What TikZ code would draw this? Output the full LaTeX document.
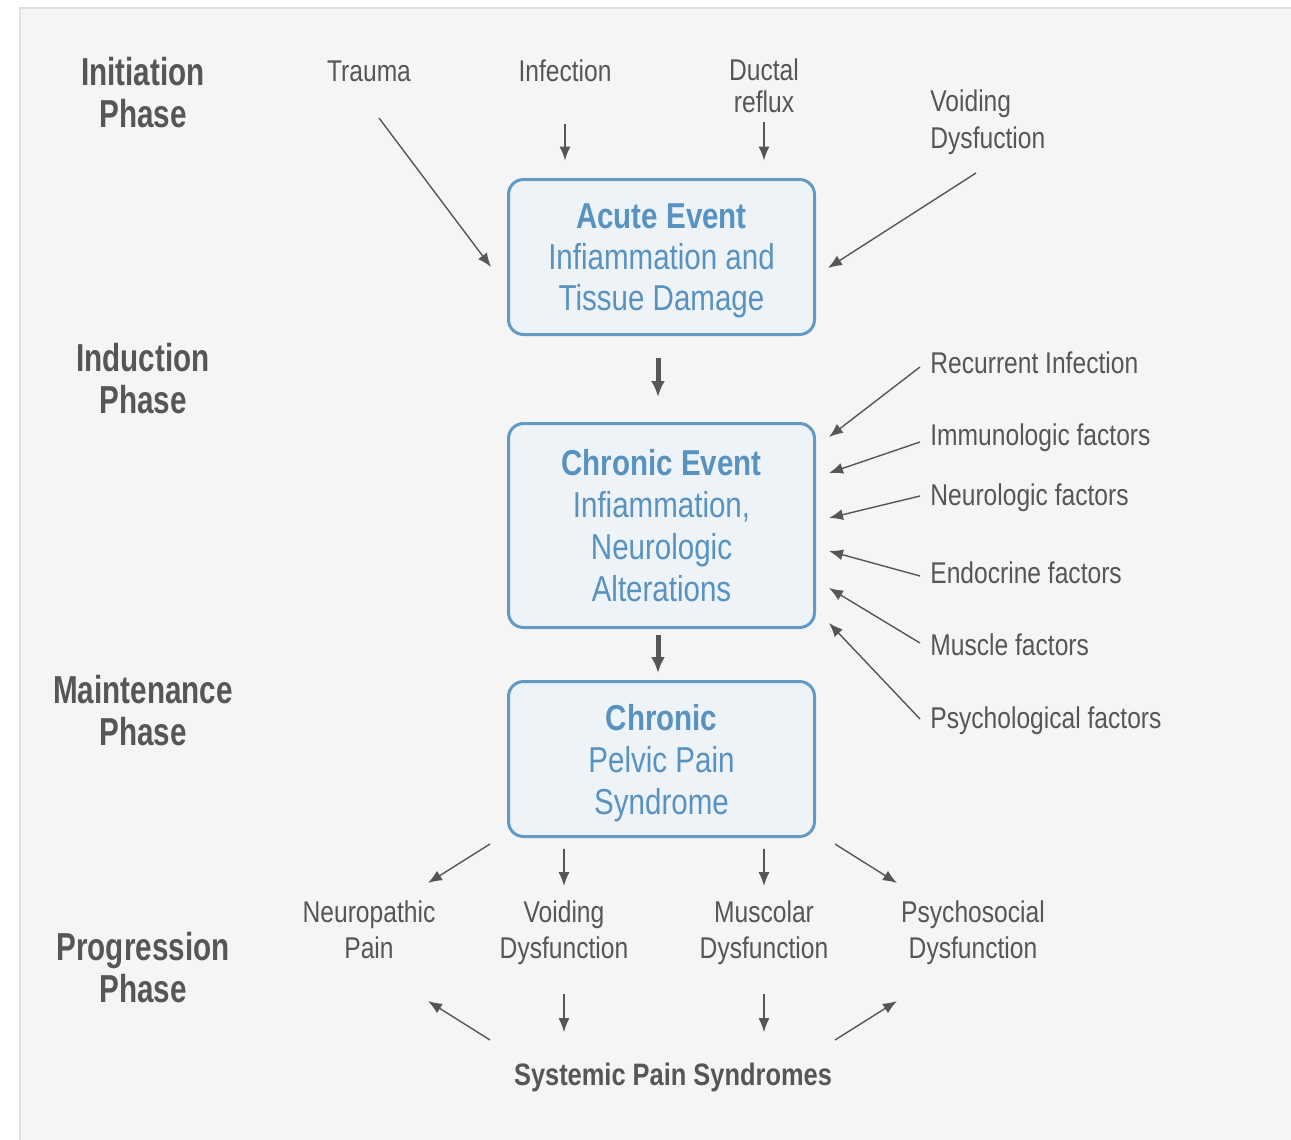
\documentclass[tikz,border=0pt]{standalone}
\usepackage{fontspec}
\setmainfont{Liberation Sans}[FakeStretch=0.82]
\newfontfamily\phasefont{Liberation Sans}[FakeStretch=0.76]
\usetikzlibrary{arrows.meta}

\definecolor{txtgray}{RGB}{86,86,86}
\definecolor{evblue}{RGB}{88,146,193}
\definecolor{evline}{RGB}{98,154,198}
\definecolor{evfill}{RGB}{238,243,248}
\definecolor{panelgray}{RGB}{245,245,245}
\definecolor{panelline}{RGB}{224,224,224}

\begin{document}
\begin{tikzpicture}[x=0.5pt, y=-0.5pt,
	phase/.style={font=\phasefont\bfseries\fontsize{19.5}{21}\selectfont, text=txtgray, align=center, inner sep=0pt, anchor=north},
	factor/.style={font=\fontsize{15}{18}\selectfont, text=txtgray, inner sep=0pt},
	event/.style={draw=evline, fill=evfill, line width=1.5pt, rounded corners=7.5pt, minimum width=153pt, text=evblue, align=center, text depth=0pt, font=\fontsize{18}{21}\selectfont},
	arr/.style={draw=txtgray, line width=0.7pt, -{Latex[length=7pt,width=5.5pt]}},
	bigarr/.style={draw=txtgray, line width=2.5pt, -{Latex[length=8pt,width=7pt]}}]
	\useasboundingbox (0,0) rectangle (1291,1140);
	\fill[white] (0,0) rectangle (1291,1140);
	\fill[panelgray] (20,8) rectangle (1291,1140);
	\draw[panelline, line width=1pt] (20,1140) -- (20,8) -- (1291,8);

	% Phase names on the left
	\node[phase] (init) at (143,57) {Initiation\\Phase};
	\node[phase] (induct) at (143,343) {Induction\\Phase};
	\node[phase] (maint) at (143,675) {Maintenance\\Phase};
	\node[phase] (progr) at (143,932) {Progression\\Phase};

	% Event boxes
	\node[event, minimum height=77.5pt, font=\fontsize{18}{20.5}\selectfont] (acute) at (661.5,257) {\textbf{Acute Event}\\Infiammation and\\Tissue Damage};
	\node[event, minimum height=102pt] (chronicev) at (661.5,525.5) {\textbf{Chronic Event}\\Infiammation,\\Neurologic\\Alterations};
	\node[event, minimum height=77.5pt] (cpps) at (661.5,759) {\textbf{Chronic}\\Pelvic Pain\\Syndrome};

	\draw[bigarr, shorten <=11pt, shorten >=12.5pt] ([xshift=-1.75pt]acute.south) -- ([xshift=-1.75pt]chronicev.north);
	\draw[bigarr, shorten <=3pt, shorten >=3.5pt] ([xshift=-1.75pt]chronicev.south) -- ([xshift=-1.75pt]cpps.north);

	% Initiation causes
	\node[factor, anchor=base] (trauma) at (369,81) {Trauma};
	\node[factor, anchor=base] (infect) at (565,81) {Infection};
	\node[factor, anchor=north, align=center, font=\fontsize{15}{16}\selectfont] (ductal) at (764,58) {Ductal\\reflux};
	\node[factor, anchor=north west, align=left, font=\fontsize{15}{18.5}\selectfont] (voidtop) at (930,89) {Voiding\\Dysfuction};
	\coordinate (trauma-a) at (379,118);
	\coordinate (trauma-b) at (491,267);
	\coordinate (voidtop-a) at (976,173);
	\coordinate (voidtop-b) at (828,268);
	\draw[arr] (trauma-a) -- (trauma-b);
	\draw[arr, shorten <=21pt, shorten >=8.75pt] (infect.south) -- (infect.south |- acute.north);
	\draw[arr, shorten <=4.5pt, shorten >=8.75pt] (ductal.south) -- (ductal.south |- acute.north);
	\draw[arr] (voidtop-a) -- (voidtop-b);

	% Induction factors
	\node[factor, anchor=base west] (recur) at (930,373) {Recurrent Infection};
	\node[factor, anchor=base west] (immuno) at (930,445) {Immunologic factors};
	\node[factor, anchor=base west] (neurol) at (930,505) {Neurologic factors};
	\node[factor, anchor=base west] (endo) at (930,583) {Endocrine factors};
	\node[factor, anchor=base west] (muscle) at (930,655) {Muscle factors};
	\node[factor, anchor=base west] (psych) at (930,728) {Psychological factors};
	\coordinate (recur-a) at (920,367);
	\coordinate (recur-b) at (829,437);
	\coordinate (immuno-a) at (920,442);
	\coordinate (immuno-b) at (829,473);
	\coordinate (neurol-a) at (920,496);
	\coordinate (neurol-b) at (829,518);
	\coordinate (endo-a) at (920,576);
	\coordinate (endo-b) at (829,551);
	\coordinate (muscle-a) at (920,643);
	\coordinate (muscle-b) at (829,588);
	\coordinate (psych-a) at (920,719);
	\coordinate (psych-b) at (829,623);
	\foreach \f in {recur,immuno,neurol,endo,muscle,psych}
		\draw[arr] (\f-a) -- (\f-b);

	% Progression
	\node[factor, anchor=north, align=center] (neuro) at (369,900) {Neuropathic\\Pain};
	\node[factor, anchor=north, align=center] (voidbot) at (564,900) {Voiding\\Dysfunction};
	\node[factor, anchor=north, align=center] (muscol) at (764,900) {Muscolar\\Dysfunction};
	\node[factor, anchor=north, align=center] (psycho) at (973,900) {Psychosocial\\Dysfunction};
	\node[factor, anchor=base, font=\bfseries\fontsize{15.5}{18}\selectfont] (systemic) at (673,1085) {Systemic Pain Syndromes};
	\coordinate (neuro-a) at (490,844);
	\coordinate (neuro-b) at (428,883);
	\coordinate (psycho-a) at (835,844);
	\coordinate (psycho-b) at (897,883);
	\coordinate (neuro-c) at (490,1040);
	\coordinate (neuro-d) at (428,1001);
	\coordinate (psycho-c) at (835,1040);
	\coordinate (psycho-d) at (897,1001);
	\draw[arr] (neuro-a) -- (neuro-b);
	\draw[arr] (psycho-a) -- (psycho-b);
	\draw[arr] (neuro-c) -- (neuro-d);
	\draw[arr] (psycho-c) -- (psycho-d);
	\draw[arr, shorten <=5.25pt, shorten >=7pt] (cpps.south -| voidbot.north) -- (voidbot.north);
	\draw[arr, shorten <=5.25pt, shorten >=7pt] (cpps.south -| muscol.north) -- (muscol.north);
	\draw[arr, shorten <=14.5pt, shorten >=15pt] (voidbot.south) -- (voidbot.south |- systemic.north);
	\draw[arr, shorten <=14.5pt, shorten >=15pt] (muscol.south) -- (muscol.south |- systemic.north);
\end{tikzpicture}
\end{document}
